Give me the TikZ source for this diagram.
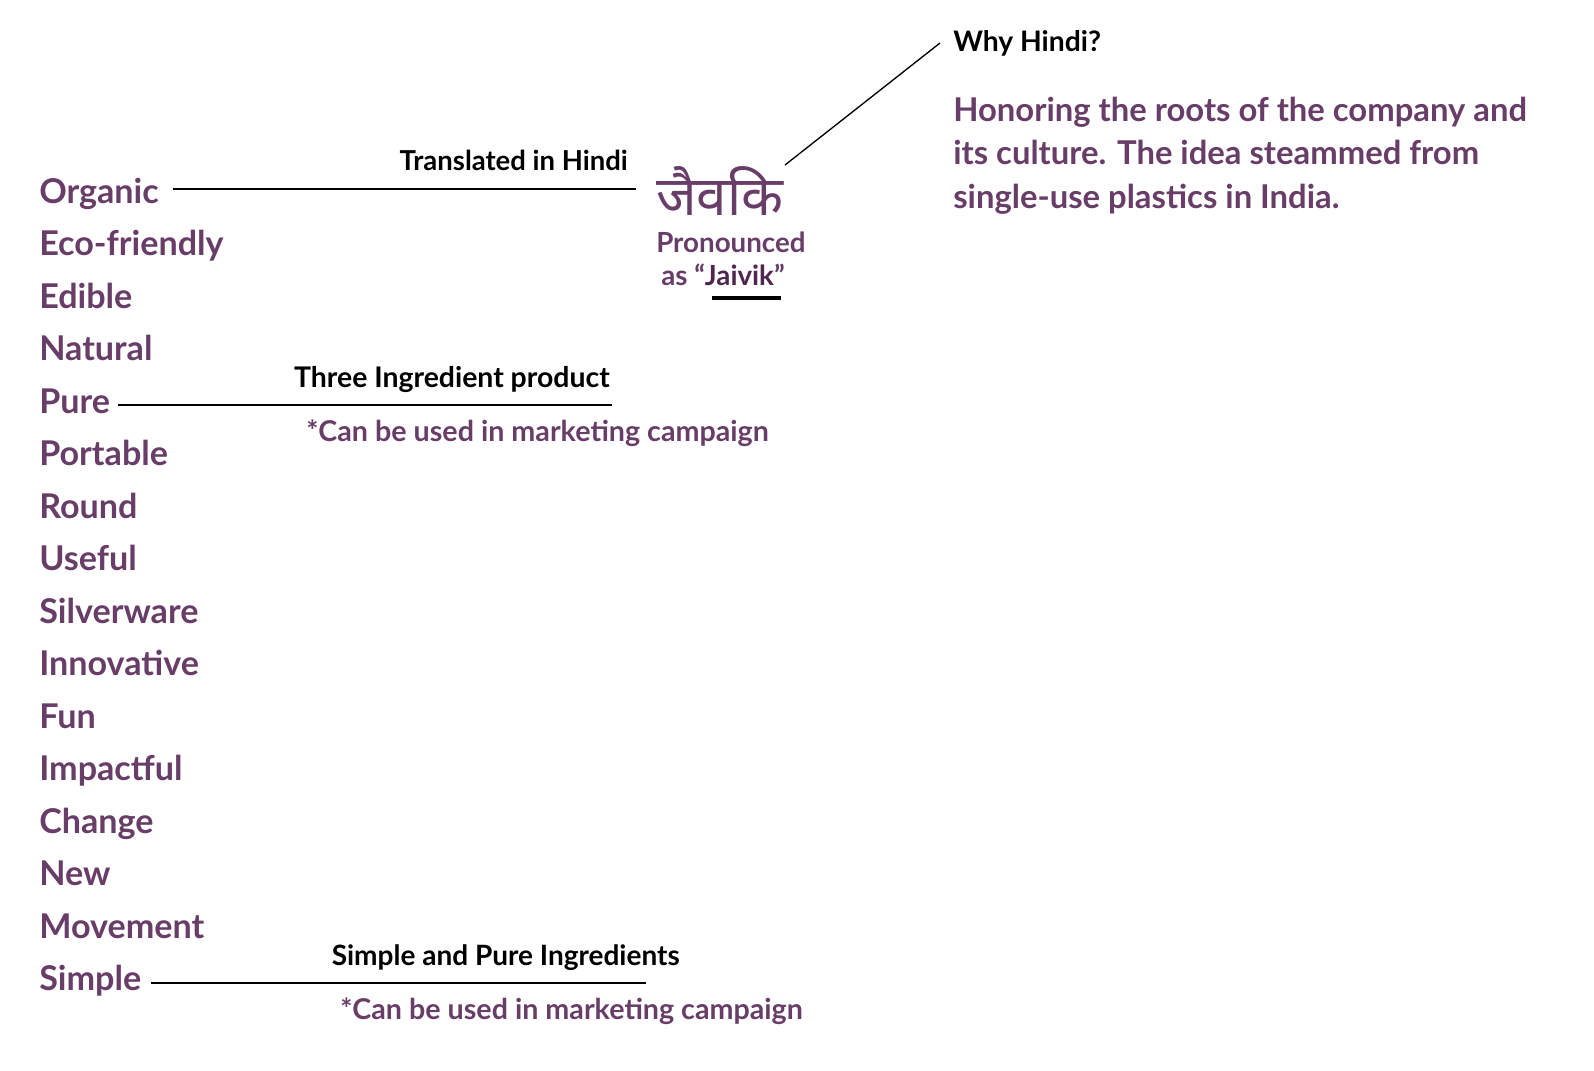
\documentclass[tikz,border=0pt]{standalone}
\usepackage{fontspec}
\setmainfont{Lato}
\newfontfamily\hindifont[Script=Devanagari]{Noto Sans}
\newfontfamily\bfont{Lato Bold}
\definecolor{plum}{RGB}{104,62,104}
\definecolor{darkplum}{RGB}{78,38,78}
\tikzset{
  word/.style={anchor=base west, inner sep=0pt, text=plum, font=\bfont\fontsize{25.6}{30}\selectfont},
  blk/.style={anchor=base east, inner sep=0pt, text=black, font=\bfont\fontsize{21}{24}\selectfont},
  note/.style={anchor=base west, inner sep=0pt, text=plum, font=\bfont\fontsize{21.5}{24}\selectfont},
  para/.style={anchor=base west, inner sep=0pt, text=plum, font=\bfont\fontsize{24.6}{30}\selectfont},
  conn/.style={draw=black, line width=1pt},
}
\begin{document}
\begin{tikzpicture}[x=0.75pt,y=-0.75pt]
\useasboundingbox (0,0) rectangle (1594,1070);
% word list
\foreach \w [count=\i from 0] in {Organic,Eco-friendly,Edible,Natural,Pure,Portable,Round,Useful,Silverware,Innovative,Fun,Impactful,Change,New,Movement,Simple}{
  \node[word] (w\i) at (39,{203+52.5*\i}) {\w};
}
% Hindi
\node[anchor=base west, inner sep=0pt, text depth=0pt, text=plum, font=\hindifont\fontsize{41}{44}\selectfont] (hindi) at (656,215) {जैवकि};
\node[anchor=base west, inner sep=0pt, text=plum, font=\bfont\fontsize{20.8}{24}\selectfont] (pron) at (656,252) {Pronounced};
\node[anchor=base west, inner sep=0pt, text=plum, font=\bfont\fontsize{20.8}{24}\selectfont] (as) at (661,285) {as “{\color{darkplum}Jaivik}”};
\coordinate (ul1) at (712,298);
\coordinate (ul2) at (781,298);
\draw[black, line width=3pt] (ul1) -- (ul2);
% connectors
\coordinate (c1a) at (173,189); \coordinate (c1b) at (636,189);
\draw[conn] (c1a) -- (c1b);
\node[blk, font=\bfont\fontsize{20.6}{24}\selectfont] (trans) at (628,171) {Translated in Hindi};
\coordinate (d1) at (785,165); \coordinate (d2) at (940,43);
\draw[conn] (d1) -- (d2);
\node[anchor=base west, inner sep=0pt, font=\bfont\fontsize{21.2}{24}\selectfont] (why) at (953,52) {Why Hindi?};
\node[para] (para1) at (953,122) {Honoring the roots of the company and};
\node[para] (para2) at (953,165) {its culture. The idea steammed from};
\node[para] (para3) at (953,208) {single-use plastics in India.};
% Pure
\coordinate (p1) at (118,405); \coordinate (p2) at (612,405);
\draw[conn] (p1) -- (p2);
\node[blk, font=\bfont\fontsize{21.3}{24}\selectfont] (three) at (610,387) {Three Ingredient product};
\node[note] (n1) at (306,441) {*Can be used in marketing campaign};
% Simple
\coordinate (s1) at (151,983); \coordinate (s2) at (646,983);
\draw[conn] (s1) -- (s2);
\node[blk] (simp) at (680,965) {Simple and Pure Ingredients};
\node[note] (n2) at (340,1019) {*Can be used in marketing campaign};
\end{tikzpicture}
\end{document}
